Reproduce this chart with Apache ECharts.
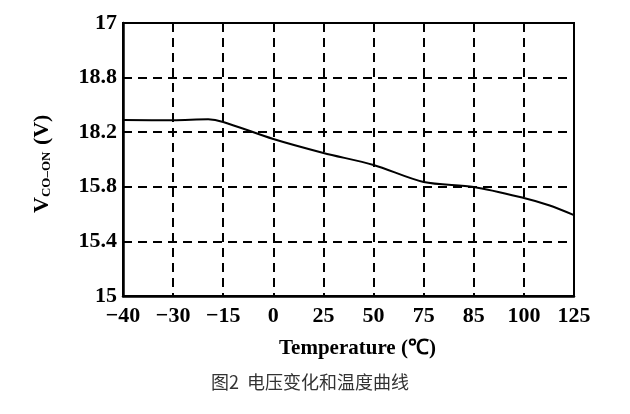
<!DOCTYPE html>
<html>
<head>
<meta charset="utf-8">
<script src="https://cdn.jsdelivr.net/npm/echarts@6/dist/echarts.min.js"></script>
<style>html,body{margin:0;padding:0;background:#fff;}#c{width:630px;height:414px;}</style>
</head>
<body>
<div id="c"></div>
<script>
// Tick labels as printed in the figure
var xTickLabels = ['\u221240', '\u221230', '\u221215', '0', '25', '50', '75', '85', '100', '125'];
var yTickLabels = ['15', '15.4', '15.8', '18.2', '18.8', '17'];
// Curve: position along the evenly spaced temperature ticks (index) and voltage
var curveX = [0, 1, 1.7, 2, 3, 4, 5, 6, 7, 8, 8.5, 9];
var curveY = [16.289, 16.287, 16.294, 16.275, 16.150, 16.048, 15.960, 15.835, 15.799, 15.718, 15.665, 15.593];

var FONT = 'Liberation Serif';
var chart = echarts.init(document.getElementById('c'), null, {renderer: 'canvas'});
var pts = curveX.map(function (x, i) { return [x, curveY[i]]; });

chart.setOption({
  animation: false,
  backgroundColor: '#fff',
  grid: {left: 123, right: 56, top: 23, bottom: 118, show: true, borderColor: '#000', borderWidth: 2, backgroundColor: 'transparent'},
  xAxis: {
    type: 'value', min: 0, max: 9, interval: 1,
    axisLine: {show: true, lineStyle: {color: '#000', width: 2.5}},
    axisTick: {show: false},
    axisLabel: {
      color: '#000', fontFamily: FONT, fontWeight: 'bold', fontSize: 22, margin: 9,
      formatter: function (v) { return xTickLabels[Math.round(v)]; }
    },
    splitLine: {show: true, lineStyle: {color: '#000', width: 2, type: [9, 6]}}
  },
  yAxis: {
    type: 'value', min: 15, max: 17, interval: 0.4,
    axisLine: {show: true, lineStyle: {color: '#000', width: 2.5}},
    axisTick: {show: false},
    axisLabel: {
      color: '#000', fontFamily: FONT, fontWeight: 'bold', fontSize: 22, margin: 6,
      formatter: function (v) { return yTickLabels[Math.round((v - 15) / 0.4)]; }
    },
    splitLine: {show: true, lineStyle: {color: '#000', width: 2, type: [9, 6]}}
  },
  series: [{
    type: 'line', data: pts, smooth: 0.3, symbol: 'none',
    lineStyle: {color: '#000', width: 2}
  }],
  graphic: [
    {
      type: 'text', left: 279, top: 338,
      style: {text: 'Temperature (\u2103)', fill: '#000', font: 'bold 21px "Liberation Serif"'}
    },
    {
      type: 'text', x: 31, y: 213, rotation: Math.PI / 2,
      style: {
        text: '{a|V}{b|CO\u2013ON}{a| (V)}',
        rich: {
          a: {fill: '#000', fontFamily: FONT, fontWeight: 'bold', fontSize: 22, verticalAlign: 'bottom'},
          b: {fill: '#000', fontFamily: FONT, fontWeight: 'bold', fontSize: 13, verticalAlign: 'bottom', padding: [0, 1, 0, 0]}
        }
      }
    },
    {
      type: 'text', left: 211, top: 373,
      style: {text: '图2  电压变化和温度曲线', fill: '#333', font: '18px "Noto Sans CJK SC"'}
    }
  ]
});
</script>
</body>
</html>
